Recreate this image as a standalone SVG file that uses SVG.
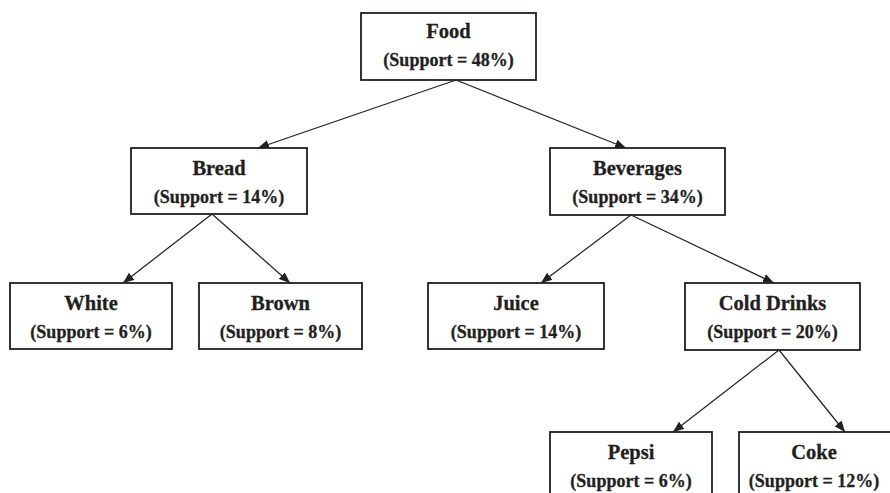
<svg xmlns="http://www.w3.org/2000/svg" width="890" height="493" viewBox="0 0 890 493">
<style>
.box{fill:#fff;stroke:#231f20;stroke-width:1.8}
.t{font-family:"Liberation Serif","Times New Roman",serif;font-weight:bold;fill:#231f20;stroke:#231f20;stroke-width:0.3;text-anchor:middle}
.t1{font-size:20.5px}
.t2{font-size:18px}
.edge{stroke:#231f20;stroke-width:1.2;fill:none;marker-end:url(#ah)}
</style>
<defs>
<marker id="ah" markerUnits="userSpaceOnUse" markerWidth="12" markerHeight="10" refX="11" refY="4.5" orient="auto">
<path d="M0,0 L11,4.5 L0,9 Z" fill="#231f20"/>
</marker>
</defs>
<rect width="890" height="493" fill="#fff"/>
<g id="connectors">
<line class="edge" x1="456" y1="80" x2="258" y2="148"/>
<line class="edge" x1="456" y1="80" x2="626" y2="148"/>
<line class="edge" x1="212" y1="214" x2="123" y2="283"/>
<line class="edge" x1="212" y1="214" x2="290" y2="283"/>
<line class="edge" x1="631" y1="215" x2="541" y2="283"/>
<line class="edge" x1="631" y1="215" x2="774" y2="283"/>
<line class="edge" x1="779" y1="350" x2="673" y2="432"/>
<line class="edge" x1="779" y1="350" x2="845" y2="432"/>
</g>
<g id="food">
<rect class="box" x="361" y="13" width="175" height="67"/>
<text class="t t1" x="448.5" y="38">Food</text>
<text class="t t2" x="448.5" y="66">(Support = 48%)</text>
</g>
<g id="bread">
<rect class="box" x="131" y="148" width="176" height="66"/>
<text class="t t1" x="219" y="175">Bread</text>
<text class="t t2" x="219" y="203">(Support = 14%)</text>
</g>
<g id="beverages">
<rect class="box" x="550" y="148" width="175" height="67"/>
<text class="t t1" x="637.5" y="175">Beverages</text>
<text class="t t2" x="637.5" y="203">(Support = 34%)</text>
</g>
<g id="white">
<rect class="box" x="10" y="283" width="162" height="66"/>
<text class="t t1" x="91" y="310">White</text>
<text class="t t2" x="91" y="338">(Support = 6%)</text>
</g>
<g id="brown">
<rect class="box" x="199" y="283" width="163" height="66"/>
<text class="t t1" x="280.5" y="310">Brown</text>
<text class="t t2" x="280.5" y="338">(Support = 8%)</text>
</g>
<g id="juice">
<rect class="box" x="428" y="283" width="176" height="66"/>
<text class="t t1" x="516" y="310">Juice</text>
<text class="t t2" x="516" y="338">(Support = 14%)</text>
</g>
<g id="colddrinks">
<rect class="box" x="685" y="283" width="175" height="67"/>
<text class="t t1" x="772.5" y="310">Cold Drinks</text>
<text class="t t2" x="772.5" y="338">(Support = 20%)</text>
</g>
<g id="pepsi">
<rect class="box" x="550" y="432" width="162" height="70"/>
<text class="t t1" x="631" y="459">Pepsi</text>
<text class="t t2" x="631" y="487">(Support = 6%)</text>
</g>
<g id="coke">
<rect class="box" x="739" y="432" width="170" height="70"/>
<text class="t t1" x="814" y="459">Coke</text>
<text class="t t2" x="814" y="487">(Support = 12%)</text>
</g>
</svg>
